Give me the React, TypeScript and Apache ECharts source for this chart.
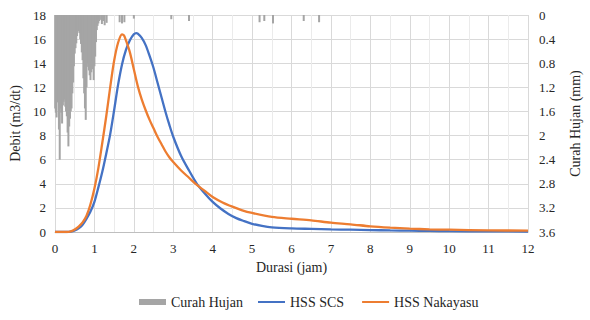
import React, { useEffect, useRef } from "react";
import * as echarts from "echarts";

// Rainfall (Curah Hujan, mm) – time in hours and depth
const rainTime = [
  0.0, 0.02, 0.04, 0.06, 0.08, 0.1, 0.12, 0.14, 0.16, 0.18, 0.2, 0.22, 0.24, 0.26, 0.28,
  0.3, 0.32, 0.34, 0.36, 0.38, 0.4, 0.42, 0.44, 0.46, 0.48, 0.5, 0.52, 0.54, 0.56, 0.58,
  0.6, 0.62, 0.64, 0.66, 0.68, 0.7, 0.72, 0.74, 0.76, 0.78, 0.8, 0.82, 0.84, 0.86, 0.88,
  0.9, 0.92, 0.94, 0.96, 0.98, 1.0, 1.02, 1.04, 1.06, 1.08, 1.1, 1.12, 1.14,
  1.19, 1.22, 1.26, 1.31, 1.64, 1.7, 1.76, 2.0, 2.95, 3.4, 5.19, 5.31, 5.53, 6.31, 6.7,
];
const rainDepth = [
  1.55, 1.62, 1.7, 1.45, 1.38, 1.9, 2.4, 1.55, 1.62, 1.8, 1.5, 1.44, 1.4, 1.52, 1.6,
  1.68, 1.95, 2.18, 1.85, 1.72, 1.6, 1.55, 1.3, 1.12, 0.85, 0.64, 0.55, 0.47, 0.35, 0.25,
  0.27, 0.3, 0.4, 0.48, 0.62, 0.75, 1.05, 1.3, 1.55, 1.74, 1.2, 0.8, 0.86, 0.92, 1.0,
  1.08, 0.95, 0.75, 0.9, 1.08, 0.85, 0.69, 0.45, 0.25, 0.18, 0.14, 0.1, 0.08,
  0.15, 0.1, 0.17, 0.13, 0.12, 0.14, 0.12, 0.06, 0.07, 0.1, 0.12, 0.1, 0.14, 0.1, 0.12,
];

// HSS SCS hydrograph (m3/dt)
const scsTime = [
  0, 0.3, 0.4, 0.5, 0.6, 0.7, 0.8, 0.9, 1.0, 1.1, 1.2, 1.3, 1.4, 1.5, 1.6, 1.7, 1.8, 1.9,
  2.0, 2.06, 2.1, 2.2, 2.3, 2.4, 2.5, 2.6, 2.7, 2.8, 2.9, 3.0, 3.2, 3.4, 3.6, 3.8, 4.0,
  4.2, 4.4, 4.6, 4.8, 5.0, 5.25, 5.5, 6.0, 6.5, 7.0, 7.5, 8.0, 8.5, 9.0, 9.5, 10, 11, 12,
];
const scsFlow = [
  0, 0, 0.03, 0.12, 0.3, 0.6, 1.1, 1.7, 2.5, 3.7, 5.0, 6.5, 8.1, 10.1, 12.2, 13.9, 15.1, 15.9,
  16.4, 16.5, 16.45, 16.1, 15.5, 14.6, 13.6, 12.4, 11.2, 10.0, 8.9, 7.9, 6.3, 5.1, 4.0, 3.2, 2.5,
  1.95, 1.5, 1.15, 0.9, 0.68, 0.5, 0.38, 0.3, 0.26, 0.22, 0.19, 0.16, 0.13, 0.11, 0.09, 0.07, 0.05, 0.04,
];

// HSS Nakayasu hydrograph (m3/dt)
const nakTime = [
  0, 0.3, 0.4, 0.5, 0.6, 0.7, 0.8, 0.9, 1.0, 1.1, 1.2, 1.3, 1.4, 1.5, 1.6, 1.7, 1.75, 1.8,
  1.9, 2.0, 2.1, 2.2, 2.3, 2.4, 2.5, 2.6, 2.7, 2.8, 2.9, 3.0, 3.2, 3.4, 3.6, 3.8, 4.0,
  4.25, 4.5, 4.75, 5.0, 5.5, 6.0, 6.5, 7.0, 7.5, 8.0, 8.5, 9.0, 9.5, 10, 11, 12,
];
const nakFlow = [
  0, 0, 0.05, 0.2, 0.45, 0.8, 1.35, 2.3, 3.6, 5.3, 7.4, 9.6, 12.0, 14.2, 15.7, 16.4, 16.3, 15.9,
  14.9, 13.5, 12.1, 11.0, 10.1, 9.3, 8.6, 7.9, 7.3, 6.7, 6.2, 5.8, 5.1, 4.5, 3.9, 3.4, 2.9,
  2.45, 2.1, 1.8, 1.58, 1.25, 1.1, 0.97, 0.77, 0.64, 0.47, 0.36, 0.28, 0.22, 0.19, 0.14, 0.11,
];

const FONT = "Liberation Serif";
const TXT = "#262626";

export default function App() {
  const ref = useRef<HTMLDivElement>(null);
  useEffect(() => {
    if (!ref.current) return;
    const chart = echarts.init(ref.current, undefined, { renderer: "svg" });
    const legendText = { fontFamily: FONT, fontSize: 14, color: TXT };
    chart.setOption({
      animation: false,
      textStyle: { fontFamily: FONT, color: TXT },
      grid: { left: 51, right: 48, top: 15, bottom: 88 },
      legend: [
        {
          left: 134,
          top: 290,
          itemWidth: 27,
          itemHeight: 6,
          textStyle: legendText,
          data: [{ name: "Curah Hujan", icon: "rect" }],
        },
        {
          left: 253,
          top: 290,
          itemWidth: 27,
          itemHeight: 2,
          itemGap: 18,
          textStyle: legendText,
          data: [
            { name: "HSS SCS", icon: "rect" },
            { name: "HSS Nakayasu", icon: "rect" },
          ],
        },
      ],
      xAxis: {
        type: "value",
        min: 0,
        max: 12,
        interval: 1,
        name: "Durasi (jam)",
        nameLocation: "middle",
        nameGap: 28,
        nameTextStyle: { fontFamily: FONT, fontSize: 14, color: TXT },
        axisLine: { show: true, lineStyle: { color: "#BFBFBF" } },
        axisTick: { show: false },
        axisLabel: { fontFamily: FONT, fontSize: 13, color: TXT, margin: 10 },
        splitLine: { show: true, lineStyle: { color: "#D9D9D9", width: 1 } },
        minorTick: { show: false, splitNumber: 2 },
        minorSplitLine: { show: true, lineStyle: { color: "#EBEBEB", width: 1 } },
      },
      yAxis: [
        {
          type: "value",
          min: 0,
          max: 18,
          interval: 2,
          name: "Debit (m3/dt)",
          nameLocation: "middle",
          nameGap: 33,
          nameTextStyle: { fontFamily: FONT, fontSize: 14, color: TXT },
          axisLine: { show: false },
          axisTick: { show: false },
          axisLabel: { fontFamily: FONT, fontSize: 13, color: TXT, margin: 9 },
          splitLine: { show: true, lineStyle: { color: "#D9D9D9", width: 1 } },
        },
        {
          type: "value",
          min: 0,
          max: 3.6,
          interval: 0.4,
          inverse: true,
          name: "Curah Hujan (mm)",
          nameLocation: "middle",
          nameGap: 40,
          nameTextStyle: { fontFamily: FONT, fontSize: 14, color: TXT },
          axisLine: { show: false },
          axisTick: { show: false },
          axisLabel: { fontFamily: FONT, fontSize: 13, color: TXT, margin: 11 },
          splitLine: { show: false },
        },
      ],
      series: [
        {
          name: "Curah Hujan",
          type: "bar",
          yAxisIndex: 1,
          barWidth: 2,
          itemStyle: { color: "#A5A5A5" },
          data: rainTime.map((t, i) => [t, rainDepth[i]]),
        },
        {
          name: "HSS SCS",
          type: "line",
          yAxisIndex: 0,
          symbol: "none",
          showSymbol: false,
          smooth: 0.3,
          lineStyle: { color: "#4472C4", width: 2.3 },
          itemStyle: { color: "#4472C4" },
          data: scsTime.map((t, i) => [t, scsFlow[i]]),
        },
        {
          name: "HSS Nakayasu",
          type: "line",
          yAxisIndex: 0,
          symbol: "none",
          showSymbol: false,
          smooth: 0.3,
          lineStyle: { color: "#ED7D31", width: 2.3 },
          itemStyle: { color: "#ED7D31" },
          data: nakTime.map((t, i) => [t, nakFlow[i]]),
        },
      ],
    });
    return () => chart.dispose();
  }, []);
  return (
    <div
      ref={ref}
      style={{ position: "fixed", left: 0, top: 0, width: 590, height: 320, background: "#fff" }}
    />
  );
}
